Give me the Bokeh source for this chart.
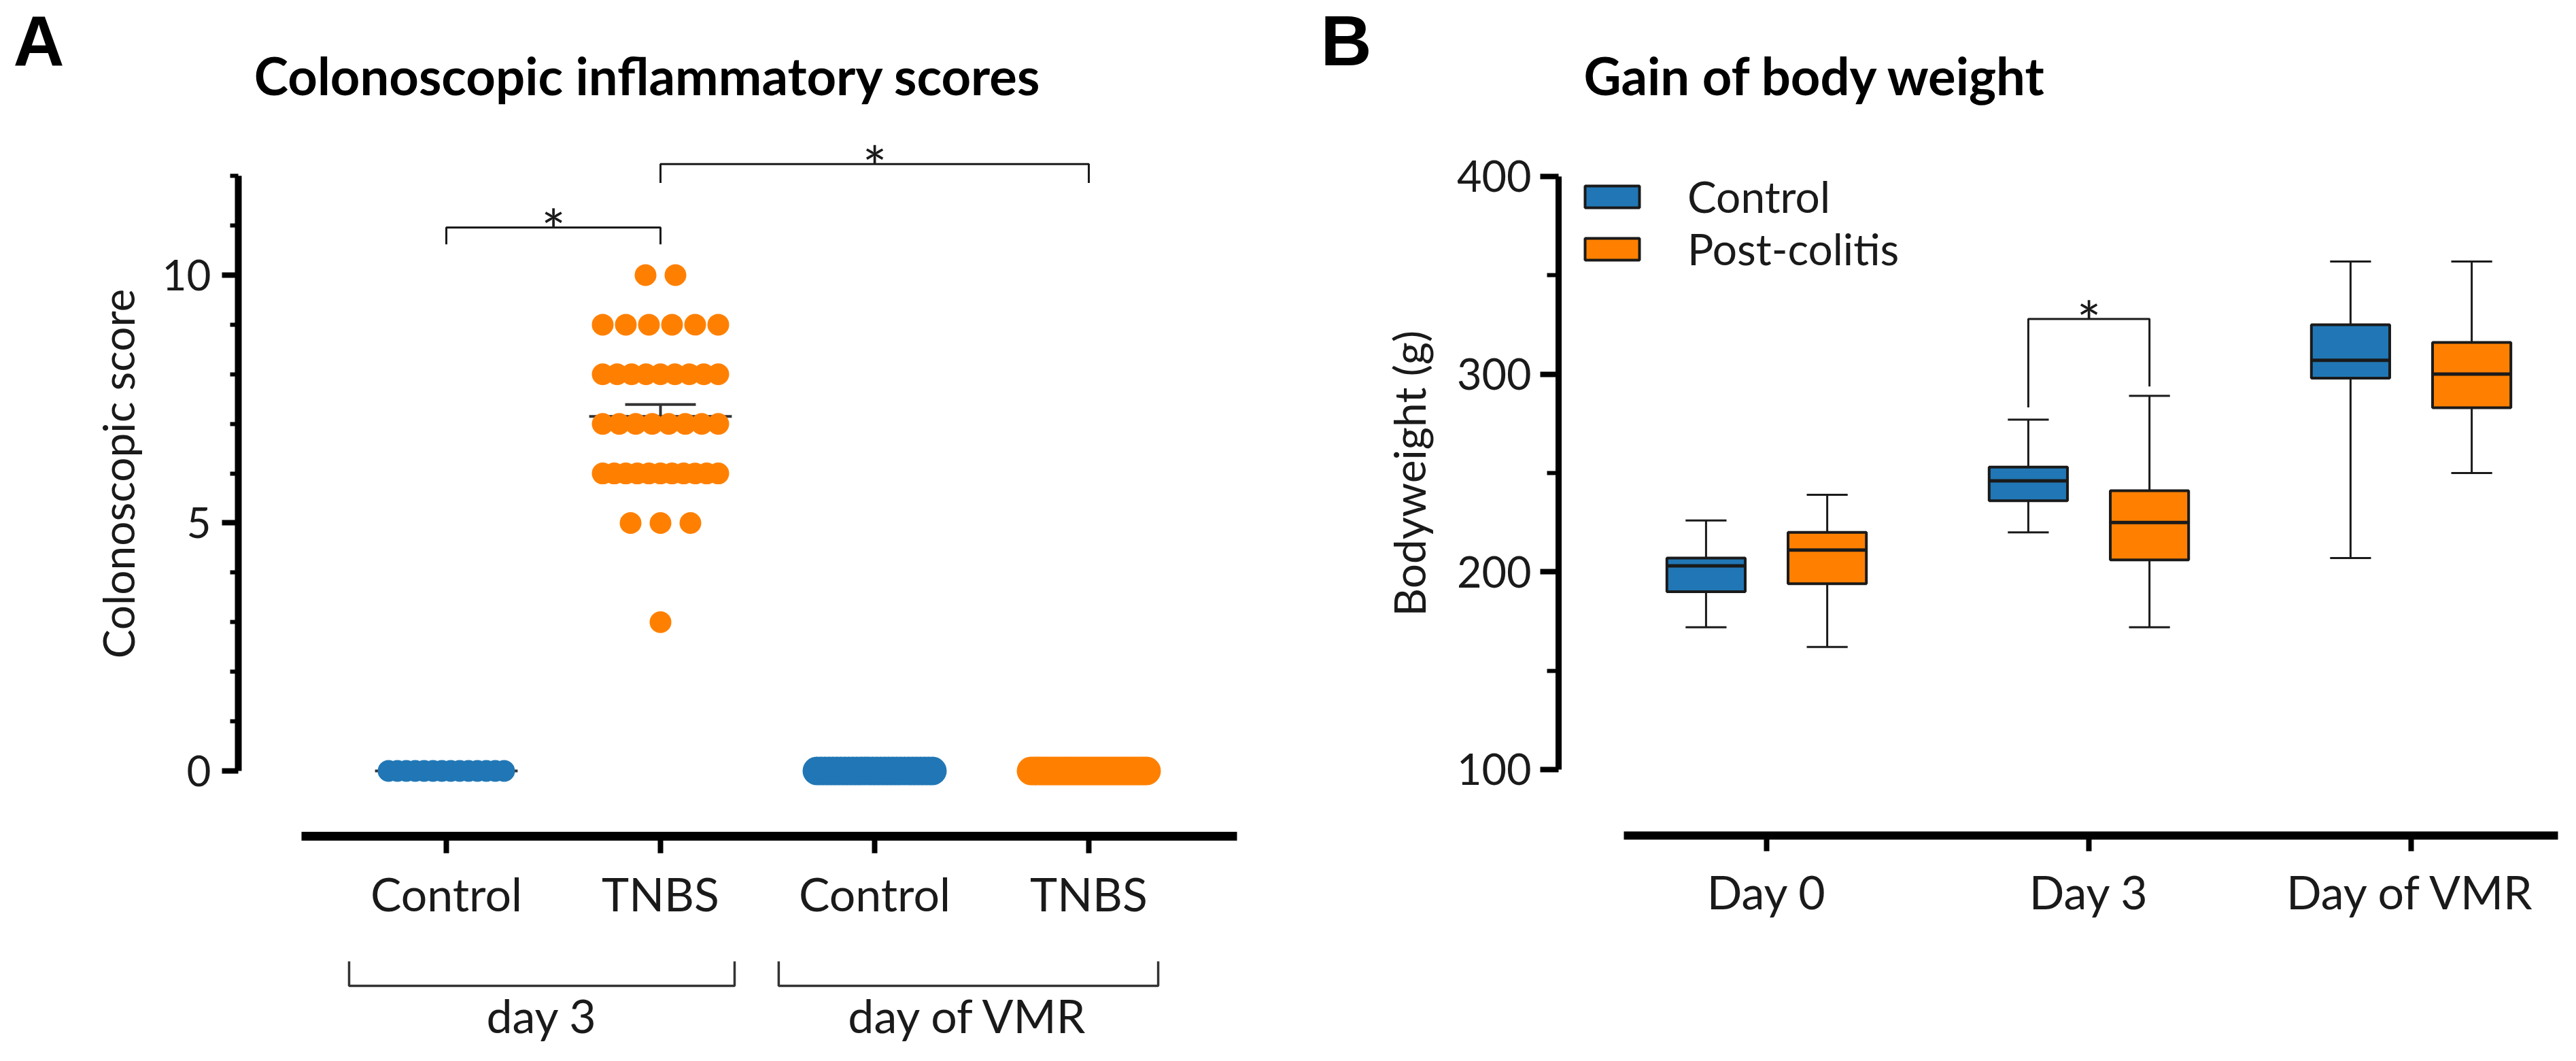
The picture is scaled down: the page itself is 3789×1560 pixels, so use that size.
import statistics
from bokeh.plotting import figure
from bokeh.models import Range1d, FixedTicker, Legend, LegendItem
from bokeh.layouts import row, column
from bokeh.embed import file_html
from bokeh.resources import INLINE
from bokeh.core.properties import value

FONT = "Lato"
LETTER_FONT = "Liberation Sans"
BLUE = "#2177B5"
ORANGE = "#FF8000"
INK = "#1a1a1a"
BASE_SHIFT = 0.27   # Bokeh draws 'alphabetic' text ~0.27em low for Lato

# ---------------- Panel A data (colonoscopic scores) ----------------
a_categories = ["Control", "TNBS", "Control", "TNBS"]
a_periods = ["day 3", "day of VMR"]
a_ctrl_d3 = [0, 0, 0, 0, 0, 0, 0, 0, 0, 0, 0, 0, 0, 0]
a_tnbs_d3 = [10, 10,
             9, 9, 9, 9, 9, 9,
             8, 8, 8, 8, 8, 8, 8, 8, 8,
             7, 7, 7, 7, 7, 7, 7, 7,
             6, 6, 6, 6, 6, 6, 6, 6, 6, 6, 6,
             5, 5, 5,
             3]
a_ctrl_vmr = [0, 0, 0, 0, 0, 0, 0, 0, 0, 0, 0, 0, 0, 0, 0,
              0, 0, 0, 0, 0, 0, 0, 0, 0, 0, 0, 0, 0, 0, 0]
a_tnbs_vmr = [0, 0, 0, 0, 0, 0, 0, 0, 0, 0, 0, 0, 0, 0, 0, 0, 0, 0, 0,
              0, 0, 0, 0, 0, 0, 0, 0, 0, 0, 0, 0, 0, 0, 0, 0, 0, 0, 0]
a_yticks = [0, 5, 10]
a_title = "Colonoscopic inflammatory scores"
a_star = "*"

# ---------------- Panel B data (body weight box plots) ----------------
b_days = ["Day 0", "Day 3", "Day of VMR"]
b_series = ["Control", "Post-colitis"]
ctrl_min = [172, 220, 207]
ctrl_q1 = [190, 236, 298]
ctrl_med = [203, 246, 307]
ctrl_q3 = [207, 253, 325]
ctrl_max = [226, 277, 357]
post_min = [162, 172, 250]
post_q1 = [194, 206, 283]
post_med = [211, 225, 300]
post_q3 = [220, 241, 316]
post_max = [239, 289, 357]
b_yticks = [100, 200, 300, 400]
b_title = "Gain of body weight"

# ---------------- styling helpers ----------------
def base_style(p):
    p.xgrid.visible = False
    p.ygrid.visible = False
    p.outline_line_color = None
    p.background_fill_color = "white"
    p.border_fill_color = "white"


def style_xaxis(ax, ticks, labels, bounds, line_w, tick_out, label_px):
    ax.ticker = FixedTicker(ticks=ticks)
    ax.major_label_overrides = {t: l for t, l in zip(ticks, labels)}
    ax.bounds = bounds
    ax.axis_line_color = "black"
    ax.axis_line_width = line_w
    ax.major_tick_line_color = "black"
    ax.major_tick_line_width = 8
    ax.major_tick_out = tick_out
    ax.major_tick_in = 0
    ax.minor_tick_line_color = None
    ax.major_label_text_font = FONT
    ax.major_label_text_font_size = label_px
    ax.major_label_text_color = INK
    ax.major_label_standoff = 18


def style_yaxis(ax, ticks, minor, bounds, line_w, tick_out, minor_out, label_px, standoff,
                title, title_standoff):
    ax.ticker = FixedTicker(ticks=ticks, minor_ticks=minor)
    ax.bounds = bounds
    ax.axis_line_color = "black"
    ax.axis_line_width = line_w
    ax.major_tick_line_color = "black"
    ax.major_tick_line_width = 8
    ax.major_tick_out = tick_out
    ax.major_tick_in = 0
    ax.minor_tick_line_color = "black"
    ax.minor_tick_line_width = 6
    ax.minor_tick_out = minor_out
    ax.minor_tick_in = 0
    ax.major_label_text_font = FONT
    ax.major_label_text_font_size = label_px
    ax.major_label_text_color = INK
    ax.major_label_standoff = standoff
    ax.axis_label = title
    ax.axis_label_text_font = FONT
    ax.axis_label_text_font_style = "normal"
    ax.axis_label_text_font_size = "64px"
    ax.axis_label_text_color = INK
    ax.axis_label_standoff = title_standoff


def plain_fig(width, height, x_range=None):
    """A figure without axes whose y units are pixels from its top."""
    if x_range is None:
        x_range = Range1d(0, width)
    f = figure(width=width, height=height, x_range=x_range, y_range=Range1d(height, 0),
               output_backend="svg", toolbar_location=None, title=None, min_border=0,
               x_axis_location=None, y_axis_location=None)
    base_style(f)
    return f


def put_text(f, x, y, txt, size, bold=False, align="center"):
    f.text(x=[x], y=[y - BASE_SHIFT * size], text=[txt], text_align=align,
           text_baseline="alphabetic", text_font=value(FONT),
           text_font_style="bold" if bold else "normal",
           text_font_size=f"{size}px", text_color="black" if bold else INK)


def put_letter(f, x, txt):
    f.text(x=[x], y=[1], text=[txt], text_align="left", text_baseline="top",
           text_font=value(LETTER_FONT), text_font_style="bold", text_font_size="104px",
           text_color="black")


TOTAL_W = 3770
HEAD_H = 163
TOTAL_H = 1544
BODY_H = TOTAL_H - HEAD_H

# ======================= header (panel letters and titles) =======================
head = plain_fig(TOTAL_W, HEAD_H)
put_letter(head, 19, "A")
put_text(head, 952, 131, a_title, 76, bold=True)
put_letter(head, 1942, "B")
put_text(head, 2670, 131, b_title, 76, bold=True)

# ======================= Panel A =======================
A_W = 1890
A_LEFT, A_RIGHT, A_BOTTOM = 350, 71, 151
A_MAIN_H = 1217
A_FOOT_H = BODY_H - A_MAIN_H

ax_range = Range1d(0.0286, 4.692)
pa = figure(width=A_W, height=A_MAIN_H, x_range=ax_range, y_range=Range1d(-1.317, 13.306),
            output_backend="svg", toolbar_location=None, title=None,
            min_border_left=A_LEFT, min_border_right=A_RIGHT,
            min_border_top=0, min_border_bottom=A_BOTTOM)
base_style(pa)
a_x = [1, 2, 3, 4]
style_xaxis(pa.xaxis[0], a_x, a_categories, (0.324, 4.692), 13, 25, "68px")
style_yaxis(pa.yaxis[0], a_yticks, [1, 2, 3, 4, 6, 7, 8, 9, 11, 12], (0, 12), 10, 24, 12,
            "62px", 16, "Colonoscopic score", 24)

px_per_x = (A_W - A_LEFT - A_RIGHT) / (ax_range.end - ax_range.start)
SWARM_STEP_PX = 44
SWARM_SPAN_PX = 170


def swarm(center, values):
    counts = {}
    for v in values:
        counts[v] = counts.get(v, 0) + 1
    xs, ys = [], []
    for v, n in counts.items():
        step = min(SWARM_STEP_PX, SWARM_SPAN_PX / (n - 1)) if n > 1 else 0
        for i in range(n):
            xs.append(center + (i - (n - 1) / 2) * step / px_per_x)
            ys.append(v)
    return xs, ys


a_groups = [a_ctrl_d3, a_tnbs_d3, a_ctrl_vmr, a_tnbs_vmr]
a_colors = [BLUE, ORANGE, BLUE, ORANGE]
a_sizes = [32, 32, 42, 42]
MEAN_HALF = 0.333
SEM_HALF = 0.165

# mean and SEM lines (drawn below the dots)
for xc, vals in zip(a_x, a_groups):
    m = statistics.mean(vals)
    sem = statistics.stdev(vals) / len(vals) ** 0.5
    pa.segment(x0=[xc - MEAN_HALF], y0=[m], x1=[xc + MEAN_HALF], y1=[m],
               line_color="#333333", line_width=4)
    if sem > 0:
        pa.segment(x0=[xc, xc - SEM_HALF], y0=[m, m + sem], x1=[xc, xc + SEM_HALF],
                   y1=[m + sem, m + sem], line_color="#333333", line_width=4)

for xc, vals, col, sz in zip(a_x, a_groups, a_colors, a_sizes):
    xs, ys = swarm(xc, vals)
    pa.scatter(x=xs, y=ys, size=sz, fill_color=col, line_color=None, marker="circle")

# significance brackets
a_sig = [(1, 2, 10.96, 10.62), (2, 4, 12.24, 11.86)]
for x1, x2, ytop, yend in a_sig:
    pa.line(x=[x1, x1, x2, x2], y=[yend, ytop, ytop, yend], line_color=INK, line_width=3)
    pa.text(x=[(x1 + x2) / 2], y=[ytop], text=[a_star], text_align="center",
            text_baseline="alphabetic", text_font=value(FONT), text_font_size="84px",
            text_color=INK, y_offset=2)

# group brackets below the axis
pa2 = plain_fig(A_W, A_FOOT_H, x_range=ax_range)
pa2.min_border_left = A_LEFT
pa2.min_border_right = A_RIGHT
a_period_spans = [(0.546, 2.346), (2.552, 4.324)]
for (g0, g1), name in zip(a_period_spans, a_periods):
    pa2.line(x=[g0, g0, g1, g1], y=[33, 69, 69, 33], line_color="#333333", line_width=3.5)
    put_text(pa2, (g0 + g1) / 2, 130, name, 68)

# ======================= Panel B =======================
B_W = TOTAL_W - A_W
B_LEFT, B_RIGHT, B_BOTTOM = 402, 8, 316

bx_range = Range1d(0.3544, 3.4557)
pb = figure(width=B_W, height=BODY_H, x_range=bx_range, y_range=Range1d(66.63, 433.0),
            output_backend="svg", toolbar_location=None, title=None,
            min_border_left=B_LEFT, min_border_right=B_RIGHT,
            min_border_top=0, min_border_bottom=B_BOTTOM)
base_style(pb)
b_x = [1, 2, 3]
style_xaxis(pb.xaxis[0], b_x, b_days, (0.557, 3.4557), 12, 23, "68px")
style_yaxis(pb.yaxis[0], b_yticks, [150, 250, 350], (100, 400), 9, 27, 17,
            "63px", 13, "Bodyweight (g)", 29)

OFFSET = 0.188
BOX_W = 0.243
CAP_W = 0.127
box_renderers = []
for sign, col, mn, q1, md, q3, mx in [(-1, BLUE, ctrl_min, ctrl_q1, ctrl_med, ctrl_q3, ctrl_max),
                                      (1, ORANGE, post_min, post_q1, post_med, post_q3, post_max)]:
    xs = [x + sign * OFFSET for x in b_x]
    pb.segment(x0=xs, y0=mn, x1=xs, y1=q1, line_color=INK, line_width=3)
    pb.segment(x0=xs, y0=q3, x1=xs, y1=mx, line_color=INK, line_width=3)
    pb.segment(x0=[x - CAP_W / 2 for x in xs], y0=mn, x1=[x + CAP_W / 2 for x in xs], y1=mn,
               line_color=INK, line_width=3)
    pb.segment(x0=[x - CAP_W / 2 for x in xs], y0=mx, x1=[x + CAP_W / 2 for x in xs], y1=mx,
               line_color=INK, line_width=3)
    r = pb.vbar(x=xs, width=BOX_W, bottom=q1, top=q3, fill_color=col, line_color=INK,
                line_width=4)
    box_renderers.append(r)
    pb.segment(x0=[x - BOX_W / 2 for x in xs], y0=md, x1=[x + BOX_W / 2 for x in xs], y1=md,
               line_color=INK, line_width=5)

# significance bracket Day 3
bl, br = 2 - OFFSET, 2 + OFFSET
pb.line(x=[bl, bl, br, br], y=[283.2, 327.9, 327.9, 293.8], line_color=INK, line_width=3)
pb.text(x=[2.0], y=[327.9], text=[a_star], text_align="center", text_baseline="alphabetic",
        text_font=value(FONT), text_font_size="84px", text_color=INK, y_offset=2)

legend = Legend(items=[LegendItem(label=b_series[0], renderers=[box_renderers[0]]),
                       LegendItem(label=b_series[1], renderers=[box_renderers[1]])],
                location=(29, 824), glyph_width=100, glyph_height=40, label_standoff=61,
                label_text_font=FONT, label_text_font_size="64px", label_text_color=INK,
                padding=0, spacing=0, margin=0, border_line_color=None,
                background_fill_alpha=0)
pb.add_layout(legend)

layout = column(head, row(column(pa, pa2), pb))
open("out.html", "w").write(file_html(layout, INLINE))
